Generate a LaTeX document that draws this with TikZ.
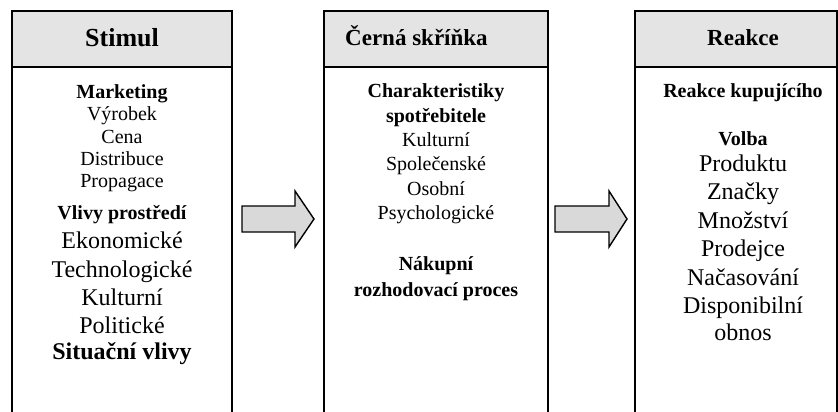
\documentclass[tikz,border=0pt]{standalone}
\usepackage{fontspec}
\setmainfont{Liberation Serif}
\definecolor{hdrgray}{HTML}{E4E4E4}
\definecolor{arrgray}{HTML}{D9D9D9}
\begin{document}
\begin{tikzpicture}[x=1pt,y=-1pt,
  hdr/.style={draw=black, line width=1.6pt, fill=hdrgray, minimum height=56pt, inner sep=0pt},
  body/.style={draw=black, line width=1.6pt, minimum height=373pt, inner sep=0pt},
  blockarrow/.style={draw=black, line width=1.4pt, fill=arrgray, line join=miter},
  ttl/.style={font=\fontsize{23}{27}\selectfont\bfseries, anchor=base, inner sep=0pt},
  sm/.style={font=\fontsize{20}{24}\selectfont, anchor=base, inner sep=0pt},
  smb/.style={font=\fontsize{20}{24}\selectfont\bfseries, anchor=base, inner sep=0pt},
  lg/.style={font=\fontsize{24}{28}\selectfont, anchor=base, inner sep=0pt},
  lgb/.style={font=\fontsize{24}{28}\selectfont\bfseries, anchor=base, inner sep=0pt}]
\useasboundingbox (0,0) rectangle (838,412);
\clip (0,0) rectangle (838,412);
% boxes
\node[body, minimum width=220pt] (b1) at (122,253.5) {};
\node[body, minimum width=224pt] (b2) at (436,253.5) {};
\node[body, minimum width=202pt] (b3) at (736,253.5) {};
\node[hdr, minimum width=220pt] (h1) at (122,39) {};
\node[hdr, minimum width=224pt] (h2) at (436,39) {};
\node[hdr, minimum width=202pt] (h3) at (736,39) {};
% header texts
\node[ttl, font=\fontsize{26}{30}\selectfont\bfseries] (t1) at (122,47) {Stimul};
\node[ttl, anchor=base west] (t2) at (345,46) {Černá skříňka};
\node[ttl] (t3) at (743,46) {Reakce};
% left column
\node[smb] (l1) at (122,99) {Marketing};
\node[sm] (l2) at (122,121) {Výrobek};
\node[sm] (l3) at (122,143) {Cena};
\node[sm] (l4) at (122,165) {Distribuce};
\node[sm] (l5) at (122,187) {Propagace};
\node[smb] (l6) at (122,219) {Vlivy prostředí};
\node[lg] (l7) at (122,248) {Ekonomické};
\node[lg] (l8) at (122,277) {Technologické};
\node[lg] (l9) at (122,305) {Kulturní};
\node[lg] (l10) at (122,333) {Politické};
\node[lgb] (l11) at (122,359) {Situační vlivy};
% middle column
\node[smb] (m1) at (436,97) {Charakteristiky};
\node[smb] (m2) at (436,122) {spotřebitele};
\node[sm] (m3) at (436,146) {Kulturní};
\node[sm] (m4) at (436,170) {Společenské};
\node[sm] (m5) at (436,195) {Osobní};
\node[sm] (m6) at (436,219) {Psychologické};
\node[smb] (m7) at (436,270) {Nákupní};
\node[smb] (m8) at (436,296) {rozhodovací proces};
% right column
\node[smb] (r1) at (743,97) {Reakce kupujícího};
\node[smb] (r2) at (743,145) {Volba};
\node[lg] (r3) at (743,171) {Produktu};
\node[lg] (r4) at (743,199) {Značky};
\node[lg] (r5) at (743,228) {Množství};
\node[lg] (r6) at (743,256) {Prodejce};
\node[lg] (r7) at (743,285) {Načasování};
\node[lg] (r8) at (743,313) {Disponibilní};
\node[lg] (r9) at (743,340) {obnos};
% block arrows
\draw[blockarrow] (242,206) -- (295,206) -- (295,191) -- (314,219) -- (295,247) -- (295,232) -- (242,232) -- cycle;
\draw[blockarrow] (555,206) -- (609,206) -- (609,191) -- (627,219) -- (609,247) -- (609,232) -- (555,232) -- cycle;
\end{tikzpicture}
\end{document}
